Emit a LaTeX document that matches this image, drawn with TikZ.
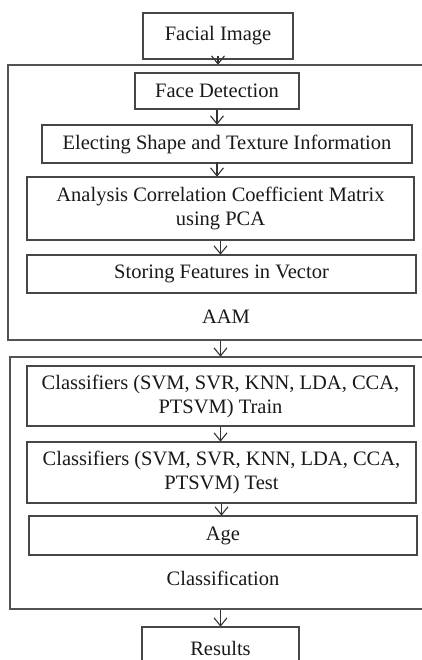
\documentclass[tikz,border=0pt]{standalone}
\usepackage{fontspec}
\setmainfont{Liberation Serif}
\usetikzlibrary{arrows.meta}
\begin{document}
\begin{tikzpicture}[x=1pt,y=-1pt,
  box/.style={draw=black!72, line width=1.6pt, rectangle, inner sep=0pt, align=center,
    font=\fontsize{20.5}{24}\selectfont, text=black!90},
  frame/.style={draw=black!68, line width=1.6pt, rectangle, inner sep=0pt},
  lbl/.style={font=\fontsize{20.5}{24}\selectfont, text=black!90, inner sep=0pt},
  arr/.style={draw=black!80, line width=1.1pt, -{Straight Barb[length=8pt,width=13pt,line width=1.1pt]}, shorten >=-0.5pt}]
\useasboundingbox (0,0) rectangle (422,660);
\clip (0,0) rectangle (422,660);
\node[frame, minimum width=424pt, minimum height=275pt] (o1) at (220,202.5) {};
\node[frame, minimum width=422pt, minimum height=252pt] (o2) at (221,483) {};
\node[box, minimum width=150pt, minimum height=46pt] (fi) at (218,36) {Facial Image};
\node[box, minimum width=164pt, minimum height=36pt] (fd) at (217,91) {Face Detection};
\node[box, minimum width=370pt, minimum height=38pt] (el) at (227,144) {Electing Shape and Texture Information};
\node[box, minimum width=387pt, minimum height=63pt] (an) at (220.5,208.5) {Analysis Correlation Coefficient Matrix\\using PCA};
\node[box, minimum width=389pt, minimum height=38pt] (st) at (221.5,274) {Storing Features in Vector};
\node[lbl] (aam) at (226,317) {AAM};
\node[box, minimum width=387pt, minimum height=60pt] (tr) at (220.5,396) {Classifiers (SVM, SVR, KNN, LDA, CCA,\\PTSVM) Train};
\node[box, minimum width=389pt, minimum height=61pt] (te) at (221.5,472.5) {Classifiers (SVM, SVR, KNN, LDA, CCA,\\PTSVM) Test};
\node[box, minimum width=388pt, minimum height=39pt] (age) at (223,535.5) {Age};
\node[lbl] (cls) at (223,578) {Classification};
\node[box, minimum width=157pt, minimum height=42pt] (res) at (220.5,648) {Results};
\coordinate (fs) at ([yshift=4pt]fi.south);
\draw[arr] (fs) -- (fs |- o1.north);
\draw[arr] (fd.south) -- (fd.south |- el.north);
\draw[arr] (el.north -| fd.south) ++(0,38) coordinate (a1) -- (a1 |- an.north);
\draw[arr] (an.south) -- (an.south |- st.north);
\draw[arr] (an.south |- o1.south) -- (an.south |- o2.north);
\draw[arr] (tr.south) -- (tr.south |- te.north);
\draw[arr] (te.south) -- (te.south |- age.north);
\draw[arr] (res.north |- o2.south) -- (res.north);
\end{tikzpicture}
\end{document}
